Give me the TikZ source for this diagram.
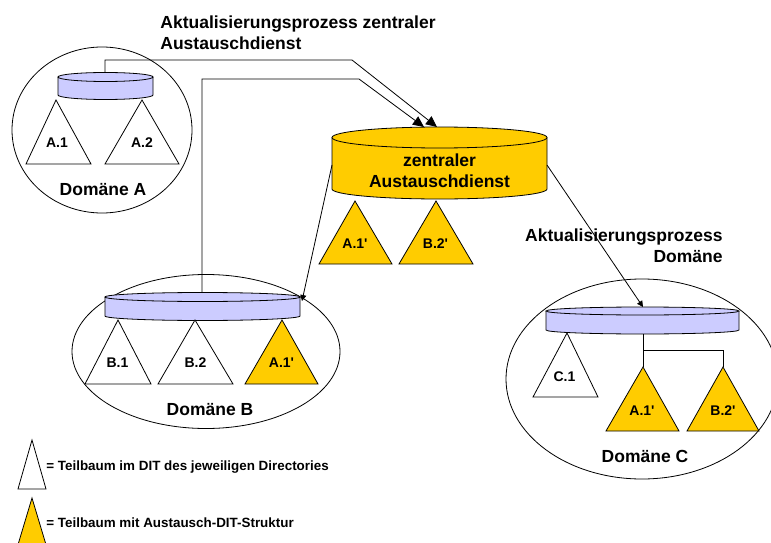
\documentclass[tikz,border=0pt]{standalone}
\usepackage{fontspec}
\setmainfont{Liberation Sans}
\usetikzlibrary{arrows.meta}
\definecolor{dirblue}{HTML}{CCCCFF}
\definecolor{xgold}{HTML}{FFCC00}
\tikzset{
  biglbl/.style={font=\bfseries\fontsize{17.5}{21}\selectfont, inner sep=0pt},
  treelbl/.style={font=\bfseries\fontsize{14}{16}\selectfont, inner sep=0pt, anchor=base},
  keylbl/.style={font=\bfseries\fontsize{13.4}{15}\selectfont, inner sep=0pt, anchor=base west},
  subtree/.style={draw, fill=white},
  xsubtree/.style={draw, fill=xgold},
  conn/.style={draw, -{Triangle[length=6pt,width=6pt]}},
  bigconn/.style={draw, -{Triangle[length=11pt,width=10pt]}}
}
\begin{document}
\begin{tikzpicture}[x=1pt, y=1pt, line width=0.8pt]
  \useasboundingbox (0,0) rectangle (771,542);
  \clip (0,0) rectangle (771,542);
  % domain circles:
  \draw (102,412) ellipse[x radius=90, y radius=83];
  \draw (206,190.5) ellipse[x radius=134, y radius=77];
  \draw (642,163) ellipse[x radius=136, y radius=100];
  % directory of domain A:
  \fill[dirblue] (58,465) -- (58,447) arc[start angle=180, end angle=360, x radius=47.5, y radius=4.5] -- (153,465) -- cycle;
  \draw (58,465) -- (58,447) arc[start angle=180, end angle=360, x radius=47.5, y radius=4.5] -- (153,465);
  \draw[fill=dirblue] (105.5,465) ellipse[x radius=47.5, y radius=4.5];
  % central exchange service:
  \fill[xgold] (332,404.5) -- (332,353) arc[start angle=180, end angle=360, x radius=107.5, y radius=10] -- (547,404.5) -- cycle;
  \draw (332,404.5) -- (332,353) arc[start angle=180, end angle=360, x radius=107.5, y radius=10] -- (547,404.5);
  \draw[fill=xgold] (439.5,404.5) ellipse[x radius=107.5, y radius=10.5];
  % directory of domain B:
  \fill[dirblue] (105,245) -- (105,226) arc[start angle=180, end angle=360, x radius=97.5, y radius=4.5] -- (300,245) -- cycle;
  \draw (105,245) -- (105,226) arc[start angle=180, end angle=360, x radius=97.5, y radius=4.5] -- (300,245);
  \draw[fill=dirblue] (202.5,245) ellipse[x radius=97.5, y radius=4.5];
  % directory of domain C:
  \fill[dirblue] (546,231) -- (546,212) arc[start angle=180, end angle=360, x radius=96.5, y radius=4] -- (739,231) -- cycle;
  \draw (546,231) -- (546,212) arc[start angle=180, end angle=360, x radius=96.5, y radius=4] -- (739,231);
  \draw[fill=dirblue] (642.5,231) ellipse[x radius=96.5, y radius=4];
  % subtrees:
  \draw[subtree] (56,442) -- (91,378) -- (26,378) -- cycle;
  \draw[subtree] (142,442) -- (179,378) -- (105,378) -- cycle;
  \draw[xsubtree] (355,341) -- (392,278) -- (319,278) -- cycle;
  \draw[xsubtree] (436,341) -- (473,278) -- (399,278) -- cycle;
  \draw[subtree] (118,222) -- (151,158) -- (85,158) -- cycle;
  \draw[subtree] (195,222) -- (233,158) -- (158,158) -- cycle;
  \draw[xsubtree] (282,222) -- (318,158) -- (245,158) -- cycle;
  \draw[subtree] (567,209) -- (598,145) -- (533,145) -- cycle;
  \draw[xsubtree] (643,175) -- (679,111) -- (606,111) -- cycle;
  \draw[xsubtree] (723,175) -- (759,111) -- (687,111) -- cycle;
  % legend:
  \draw[subtree] (32,102) -- (46,53) -- (18,53) -- cycle;
  \draw[xsubtree] (32,44) -- (47,-6) -- (17,-6) -- cycle;
  % connector ends:
  \coordinate (cylA-top) at (105,469.5);
  \coordinate (cylB-top) at (202,249.5);
  \coordinate (cylB-end) at (302,241);
  \coordinate (cylC-top) at (643,235);
  \coordinate (cylC-bot) at (643,208);
  \coordinate (zad-in1) at (437,415);
  \coordinate (zad-in2) at (424,415);
  \coordinate (zad-left) at (332,377);
  \coordinate (zad-right) at (547,377);
  \coordinate (cA1-apex) at (643,175);
  \coordinate (cB2-apex) at (723,175);
  % update flows:
  \draw[bigconn] (cylA-top) |- (352,482) -- (zad-in1);
  \draw[bigconn] (cylB-top) |- (359,463) -- (zad-in2);
  \draw[conn] (zad-left) -- (cylB-end);
  \draw[conn] (zad-right) -- (cylC-top);
  \draw (cylC-bot) -- (cA1-apex);
  \draw (cylC-bot |- 0,192) -| (cB2-apex);
  % texts:
  \node[biglbl, align=left, anchor=west] (title) at (160,509) {Aktualisierungsprozess zentraler\\Austauschdienst};
  \node[biglbl, align=center] (zad) at (439.5,371.5) {zentraler\\Austauschdienst};
  \node[biglbl, align=right, anchor=east] (updC) at (723,296.5) {Aktualisierungsprozess\\Domäne};
  \node[biglbl, anchor=base] (domA) at (103,347) {Domäne A};
  \node[biglbl, anchor=base] (domB) at (210,127) {Domäne B};
  \node[biglbl, anchor=base] (domC) at (645,80) {Domäne C};
  \node[treelbl] (a1) at (57,394) {A.1};
  \node[treelbl] (a2) at (142,394) {A.2};
  \node[treelbl] (za1) at (355,294) {A.1\textquotesingle};
  \node[treelbl] (zb2) at (435.5,294) {B.2\textquotesingle};
  \node[treelbl] (b1) at (117.5,175) {B.1};
  \node[treelbl] (b2) at (195.5,175) {B.2};
  \node[treelbl] (ba1) at (281.5,175) {A.1\textquotesingle};
  \node[treelbl] (c1) at (564.5,161) {C.1};
  \node[treelbl] (ca1) at (642,127) {A.1\textquotesingle};
  \node[treelbl] (cb2) at (723,127) {B.2\textquotesingle};
  \node[keylbl] (key1) at (46,72) {= Teilbaum im DIT des jeweiligen Directories};
  \node[keylbl] (key2) at (46,15) {= Teilbaum mit Austausch-DIT-Struktur};
\end{tikzpicture}
\end{document}
